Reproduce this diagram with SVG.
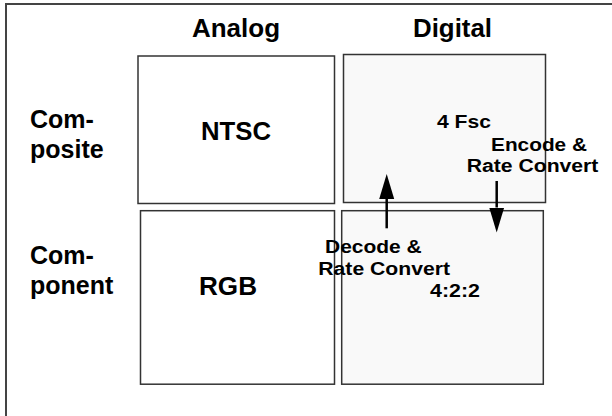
<svg xmlns="http://www.w3.org/2000/svg" width="612" height="416" viewBox="0 0 612 416">
<style>
.big{font-family:"Liberation Sans",Arial,sans-serif;font-weight:bold;font-size:25px;fill:#000}
.sm{font-family:"Liberation Sans",Arial,sans-serif;font-weight:bold;font-size:18px;fill:#000}
.box{stroke:#333;stroke-width:1.5}
.conn{stroke:#000;stroke-width:2.5;fill:none}
</style>
<defs>
<marker id="ah" markerUnits="userSpaceOnUse" markerWidth="26" markerHeight="16" refX="0" refY="7.5" orient="auto" viewBox="0 0 26 15">
<path d="M0,0 L25,7.5 L0,15 Z" fill="#000"/>
</marker>
</defs>
<rect width="612" height="416" fill="#fff"/>
<path d="M612,4 H6 V416" fill="none" stroke="#444" stroke-width="2"/>
<g id="headers">
<text class="big" x="192" y="37" textLength="88" lengthAdjust="spacingAndGlyphs">Analog</text>
<text class="big" x="413" y="37" textLength="79" lengthAdjust="spacingAndGlyphs">Digital</text>
<text class="big" x="30" y="128">Com-</text>
<text class="big" x="30" y="158">posite</text>
<text class="big" x="30" y="264">Com-</text>
<text class="big" x="30" y="294">ponent</text>
</g>
<g id="ntsc">
<rect class="box" x="138" y="56" width="196.5" height="147.5" fill="#fff"/>
<text class="big" x="201" y="140" textLength="70" lengthAdjust="spacingAndGlyphs">NTSC</text>
</g>
<g id="fsc">
<rect class="box" x="343.5" y="54.5" width="202" height="148" fill="#f9f9f9"/>
<text class="sm" x="437" y="128.3" textLength="54" lengthAdjust="spacingAndGlyphs">4 Fsc</text>
</g>
<g id="rgb">
<rect class="box" x="140.5" y="210.7" width="194" height="173.5" fill="#fff"/>
<text class="big" x="199" y="295" textLength="58" lengthAdjust="spacingAndGlyphs">RGB</text>
</g>
<g id="c422">
<rect class="box" x="341.7" y="210.7" width="201.6" height="173.5" fill="#f9f9f9"/>
<text class="sm" x="430" y="297" textLength="50" lengthAdjust="spacingAndGlyphs">4:2:2</text>
</g>
<g id="connectors">
<line class="conn" x1="386.7" y1="228.3" x2="386.7" y2="199" marker-end="url(#ah)"/>
<line class="conn" x1="496.7" y1="181" x2="496.7" y2="207.5" marker-end="url(#ah)"/>
<text class="sm" x="491" y="150.7" textLength="96" lengthAdjust="spacingAndGlyphs">Encode &amp;</text>
<text class="sm" x="466.7" y="171.7" textLength="131.7" lengthAdjust="spacingAndGlyphs">Rate Convert</text>
<text class="sm" x="325" y="253.3" textLength="96.7" lengthAdjust="spacingAndGlyphs">Decode &amp;</text>
<text class="sm" x="318.3" y="275" textLength="131.7" lengthAdjust="spacingAndGlyphs">Rate Convert</text>
</g>
</svg>
